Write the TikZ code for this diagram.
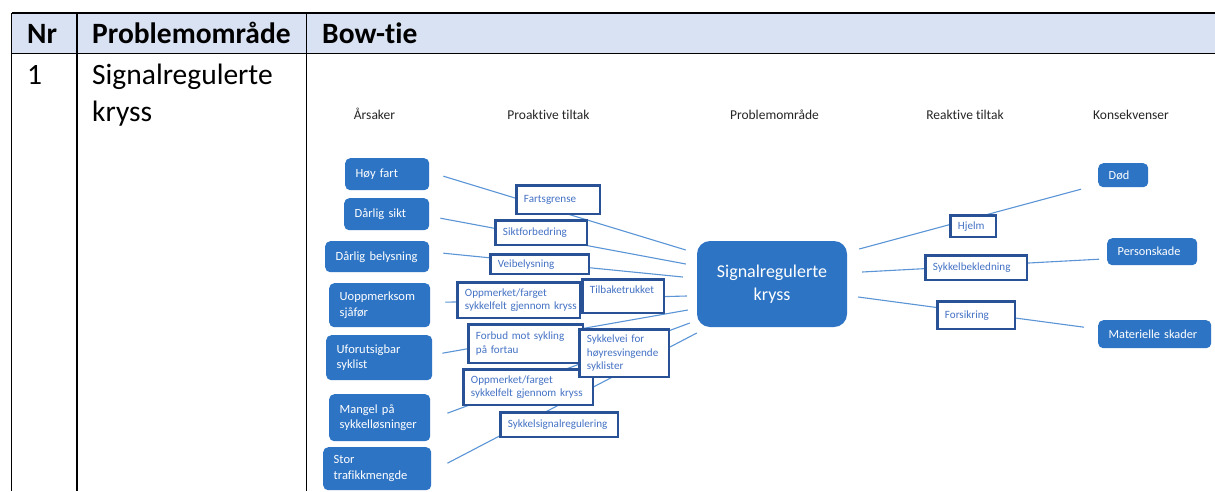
\documentclass[tikz,border=0pt]{standalone}
\usepackage{fontspec}
\setmainfont{Carlito}[Ligatures=NoCommon]
\usetikzlibrary{calc}
\pgfdeclarelayer{bg}
\pgfsetlayers{bg,main}
\definecolor{hdr}{HTML}{D9E2F3}
\definecolor{cfill}{RGB}{46,116,196}
\definecolor{pbord}{RGB}{41,82,150}
\definecolor{ptext}{RGB}{68,114,196}
\definecolor{lnk}{RGB}{91,149,214}
\definecolor{labc}{RGB}{38,38,38}
\begin{document}
\begin{tikzpicture}[x=1pt,y=-1pt,
  tab/.style={line width=1.8pt,black},
  ttxt/.style={anchor=base west,inner sep=0pt,font=\fontsize{29.5}{37}\selectfont},
  hd/.style={anchor=base west,inner sep=0pt,font=\fontsize{29.5}{37}\selectfont\bfseries},
  lab/.style={anchor=base,inner sep=0pt,text=labc,font=\fontsize{13.5}{16}\selectfont},
  cause/.style={fill=cfill,rounded corners=5pt,text=white,font=\fontsize{12.5}{15.5}\selectfont,
    inner xsep=10.5pt,inner ysep=0pt,align=left,anchor=north west},
  cons/.style={cause,font=\fontsize{12.3}{15}\selectfont},
  pro/.style={draw=pbord,line width=2.4pt,fill=white,text=ptext,font=\fontsize{11.1}{13.5}\selectfont,
    inner xsep=7.5pt,inner ysep=0pt,align=left,anchor=north west},
  ctr/.style={fill=cfill,rounded corners=13pt,text=white,font=\fontsize{18}{22.5}\selectfont,
    align=center,minimum width=150pt,minimum height=86pt,inner sep=0pt},
  link/.style={draw=lnk,line width=1.1pt}
]
\useasboundingbox (0,0) rectangle (1215,491);
\begin{pgfonlayer}{bg}
\fill[white] (0,0) rectangle (1215,491);
\end{pgfonlayer}

% table
\fill[hdr] (11.5,13) rectangle (1215,53.5);
\draw[tab] (11.5,13) -- (1215,13);
\draw[tab] (11.5,53.5) -- (1215,53.5);
\draw[tab] (11.5,13) -- (11.5,491);
\draw[tab] (77,13) -- (77,491);
\draw[tab] (306.5,13) -- (306.5,491);
\node[hd] (hnr) at (27,43) {Nr};
\node[hd] (hpo) at (92,43) {Problemområde};
\node[hd] (hbt) at (322,43) {Bow-tie};
\node[ttxt] (rnr) at (27,84) {1};
\node[ttxt] (rpa) at (92,84) {Signalregulerte};
\node[ttxt] (rpb) at (92,121) {kryss};

% column labels
\node[lab] (l1) at (374.5,119) {Årsaker};
\node[lab] (l2) at (548.5,119) {Proaktive tiltak};
\node[lab] (l3) at (774.5,119) {Problemområde};
\node[lab] (l4) at (965,119) {Reaktive tiltak};
\node[lab] (l5) at (1131,119) {Konsekvenser};

% causes
\node[cause,text width=63pt,minimum height=32pt] (hoy) at (345,158) {Høy fart};
\node[cause,text width=64pt,minimum height=32pt] (sikt) at (344,198) {Dårlig sikt};
\node[cause,text width=83pt,minimum height=31pt] (bely) at (325,241) {Dårlig belysning};
\node[cause,text width=80pt,minimum height=44pt] (uopp) at (329,283) {Uoppmerksom\\sjåfør};
\node[cause,text width=85pt,minimum height=45pt] (ufor) at (326,335) {Uforutsigbar\\syklist};
\node[cause,text width=80pt,minimum height=47pt] (mang) at (329,394) {Mangel på\\sykkelløsninger};
\node[cause,text width=87pt,minimum height=43pt] (stor) at (323,447) {Stor\\trafikkmengde};

% center
\node[ctr] (center) at (772,284) {Signalregulerte\\kryss};

% consequences
\node[cons,text width=29pt,minimum height=24pt] (dod) at (1098,163) {Død};
\node[cons,text width=69pt,minimum height=27pt] (pers) at (1107,238) {Personskade};
\node[cons,text width=92pt,minimum height=28pt] (mat) at (1098,320) {Materielle skader};

% proactive measures
\node[pro,text width=68.5pt,minimum height=28.5pt] (fart) at (515.25,184.25) {Fartsgrense};
\node[pro,text width=76.5pt,minimum height=24.5pt] (siktf) at (494.25,219.25) {Siktforbedring};
\node[pro,text width=83.5pt,minimum height=19.5pt] (veib) at (489.25,253.25) {Veibelysning};
\node[pro,text width=107.5pt,minimum height=35.5pt] (opp1) at (456.25,281.25) {\mbox{Oppmerket/farget}\\\mbox{sykkelfelt gjennom kryss}};
\node[pro,text width=66.5pt,minimum height=33.5pt] (tilb) at (581.25,278.25) {\mbox{Tilbaketrukket}\\\mbox{}};
\node[pro,text width=99.5pt,minimum height=38.5pt] (forb) at (467.25,323.25) {\mbox{Forbud mot sykling}\\\mbox{på fortau}};
\node[pro,text width=114.5pt,minimum height=35.5pt] (opp2) at (462.25,368.25) {\mbox{Oppmerket/farget}\\\mbox{sykkelfelt gjennom kryss}};
\node[pro,text width=74.5pt,minimum height=47.5pt] (skv) at (578.25,328.25) {\mbox{Sykkelvei for}\\\mbox{høyresvingende}\\\mbox{syklister}};
\node[pro,text width=102.5pt,minimum height=24.5pt] (ssr) at (499.25,411.25) {\mbox{Sykkelsignalregulering}};

% reactive measures
\node[pro,text width=30.5pt,minimum height=21.5pt] (hjelm) at (949.25,214.25) {Hjelm};
\node[pro,text width=86.5pt,minimum height=24.5pt] (sbek) at (924.25,254.25) {\mbox{Sykkelbekledning}};
\node[pro,text width=62.5pt,minimum height=27.5pt] (fors) at (936.25,300.25) {Forsikring};

% connectors (behind boxes)
\begin{pgfonlayer}{bg}
\draw[link] ($(hoy.east)+(14,2)$) -- ($(center.west)+(-11,-34)$);
\draw[link] ($(sikt.east)+(11,4)$) -- ($(center.west)+(-11,-20)$);
\draw[link] ($(bely.east)+(14,-3.5)$) -- ($(center.west)+(-14,-7)$);
\draw[link] ($(uopp.east)+(15,-3)$) -- ($(center.west)+(-10,12)$);
\draw[link] ($(ufor.east)+(10,-4.5)$) -- ($(center.west)+(-9,26)$);
\draw[link] ($(mang.east)+(17,-4.5)$) -- ($(center.west)+(-7,39)$);
\draw[link] ($(stor.east)+(16,-5.5)$) -- ($(center.west)+(0,49)$);
\draw[link] ($(center.east)+(12,-35)$) -- ($(dod.west)+(-17,14)$);
\draw[link] ($(center.east)+(15,-12)$) -- ($(pers.west)+(-8,7.5)$);
\draw[link] ($(center.east)+(11,13)$) -- ($(mat.west)+(-14,-7)$);
\end{pgfonlayer}
\end{tikzpicture}
\end{document}
